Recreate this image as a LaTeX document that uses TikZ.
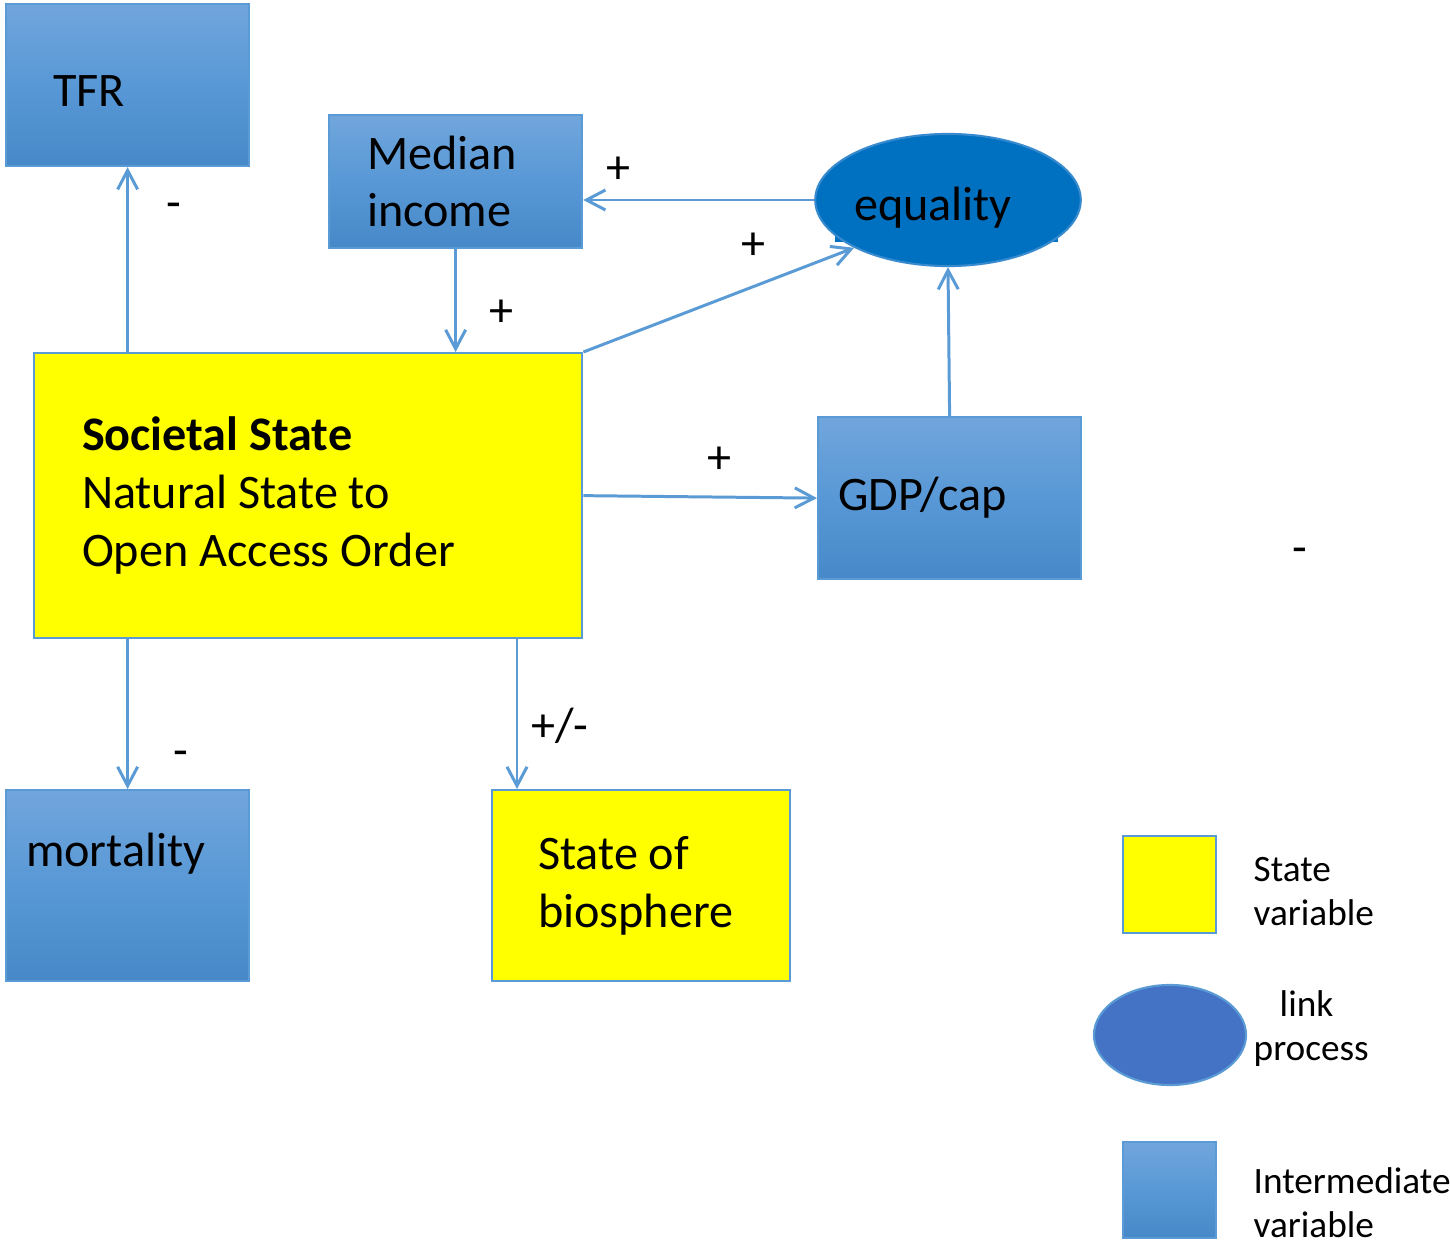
\documentclass[tikz,border=0pt]{standalone}
\usepackage{fontspec}
\setmainfont{Carlito}
\usepackage{xcolor}
\usepackage{tikz}
\usetikzlibrary{arrows.meta,shapes.geometric}

\definecolor{edgeblue}{RGB}{91,155,213}
\definecolor{topblue}{RGB}{113,166,220}
\definecolor{midblue}{RGB}{88,152,214}
\definecolor{botblue}{RGB}{71,136,200}
\definecolor{eqblue}{RGB}{0,112,192}
\definecolor{linkblue}{RGB}{68,114,196}
\definecolor{stateyellow}{RGB}{255,255,0}

\tikzset{
  txt/.style={font=\fontsize{13.7}{16.4}\selectfont, execute at begin node={\spaceskip=0.226em\relax}},
  keytxt/.style={font=\fontsize{10.6}{12.4}\selectfont, execute at begin node={\spaceskip=0.226em\relax}, anchor=base west, align=left, inner sep=0pt},
  ivar/.style={rectangle, draw=edgeblue, line width=0.6pt, top color=topblue, bottom color=botblue, middle color=midblue, anchor=north west, align=left, txt},
  svar/.style={rectangle, draw=edgeblue, line width=0.6pt, fill=stateyellow, anchor=north west, align=left, txt},
  flow/.style={draw=edgeblue, line width=0.85pt, -{Straight Barb[length=1.9mm,width=2mm]}},
  sign/.style={txt, inner sep=0pt}
}

\begin{document}
\begin{tikzpicture}[x=0.01cm, y=-0.01cm]
    \useasboundingbox (0,0) rectangle (1450,1242);

    \node[ivar, minimum width=2.43cm, minimum height=1.62cm, inner xsep=0.47cm, text width=1.49cm, text height=0.42cm, text depth=0pt] (tfr) at (5,3) {TFR};
    \node[ivar, minimum width=2.53cm, minimum height=1.33cm, inner xsep=0.38cm, text width=1.77cm] (med) at (328,114) {Median\\income};
    \node[fill=eqblue, minimum width=2.23cm, minimum height=0.77cm, inner sep=0pt] (eqpad) at (946.5,203.5) {};
    \node[ellipse, fill=eqblue, draw=edgeblue!60!eqblue, line width=0.6pt, minimum width=2.63cm, minimum height=1.32cm, inner sep=0pt, txt, text height=0.5cm, text depth=0.1cm] (eq) at (948,200) {equality\hspace*{0.3cm}};
    \node[svar, minimum width=5.48cm, minimum height=2.85cm, inner xsep=0.48cm, text width=4.52cm] (soc) at (33,352) {\textbf{Societal State}\\Natural State to\\Open Access Order};
    \node[ivar, minimum width=2.63cm, minimum height=1.62cm, inner xsep=0.2cm, text width=2.23cm] (gdp) at (817,416) {GDP/cap};
    \node[ivar, minimum width=2.43cm, minimum height=1.91cm, inner xsep=0.2cm, text width=2.03cm, text depth=0.71cm] (mort) at (5,789) {mortality};
    \node[svar, minimum width=2.98cm, minimum height=1.91cm, inner xsep=0.46cm, text width=2.06cm] (bio) at (491,789) {State of\\biosphere};
    \coordinate (biotop) at (517,789);

    \draw[flow] (tfr.south |- soc.north) -- (tfr.south);
    \draw[flow] (med.south) -- (med.south |- soc.north);
    \draw[flow] (eq.west) -- (med.east |- eq.west);
    \draw[flow] (soc.north east) -- (eq.207);
    \draw[flow] (gdp.north) -- (eq.south);
    \draw[flow] (soc.east) -- (gdp.west);
    \draw[flow] (mort.north |- soc.south) -- (mort.north);
    \draw[flow] (biotop |- soc.south) -- (biotop);

    \node[sign] (s1) at (174,211) {-};
    \node[sign] (s2) at (618,170) {+};
    \node[sign] (s3) at (753,246) {+};
    \node[sign] (s4) at (501,313) {+};
    \node[sign] (s5) at (719,460) {+};
    \node[sign] (s6) at (1300,556) {-};
    \node[sign] (s7) at (560,726) {+/-};
    \node[sign] (s8) at (181,759) {-};

    \node[svar, minimum width=0.93cm, minimum height=0.97cm, inner sep=0pt] (keystate) at (1122,835) {};
    \node[ellipse, fill=linkblue, draw=edgeblue, line width=0.6pt, minimum width=1.52cm, minimum height=1cm] (keylink) at (1170,1035) {};
    \node[ivar, minimum width=0.93cm, minimum height=0.96cm, inner sep=0pt] (keyinter) at (1122,1141) {};
    \node[keytxt] (keystatetxt) at (1253,925) {State\\variable};
    \node[keytxt] (keylinktxt) at (1253,1060) {\hspace*{0.26cm}link\\process};
    \node[keytxt] (keyintertxt) at (1253,1237) {Intermediate\\variable};
\end{tikzpicture}
\end{document}
